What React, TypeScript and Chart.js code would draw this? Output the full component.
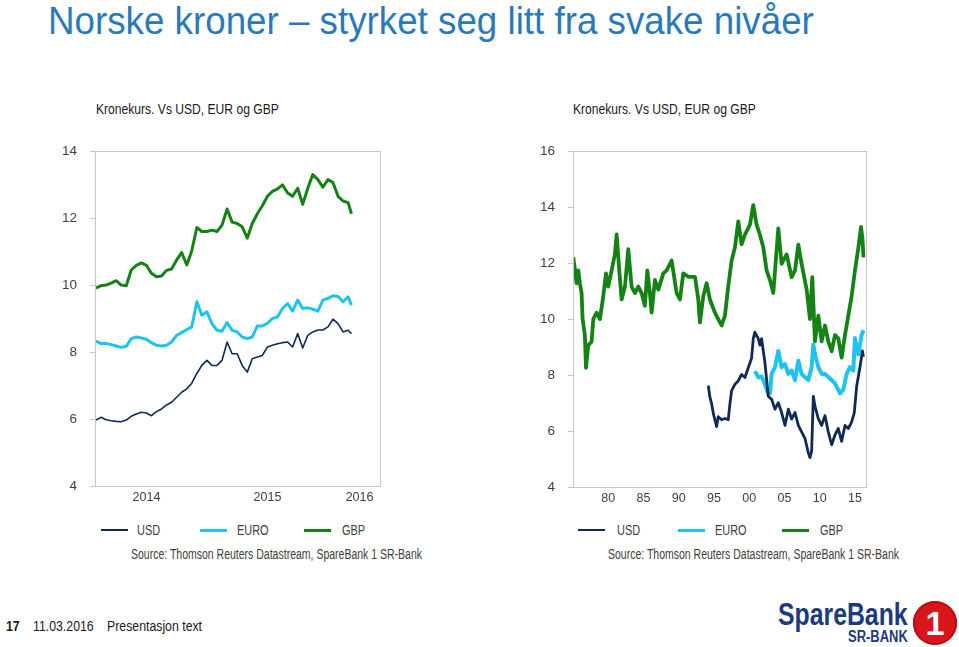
import React, { useEffect, useRef } from "react";
import { Chart, registerables } from "chart.js";

Chart.register(...registerables);

// ---------- data: left chart (2014 - Mar 2016) ----------
const leftDates = [
  "2014-02-01", "2014-02-16", "2014-03-01", "2014-03-16", "2014-04-01", "2014-04-16",
  "2014-05-01", "2014-05-16", "2014-06-01", "2014-06-16", "2014-07-01", "2014-07-16",
  "2014-08-01", "2014-08-16", "2014-09-01", "2014-09-16", "2014-10-01", "2014-10-16",
  "2014-11-01", "2014-11-16", "2014-12-01", "2014-12-16", "2015-01-01", "2015-01-16",
  "2015-02-01", "2015-02-16", "2015-03-01", "2015-03-16", "2015-04-01", "2015-04-16",
  "2015-05-01", "2015-05-16", "2015-06-01", "2015-06-16", "2015-07-01", "2015-07-16",
  "2015-08-01", "2015-08-16", "2015-09-01", "2015-09-16", "2015-10-01", "2015-10-16",
  "2015-11-01", "2015-11-16", "2015-12-01", "2015-12-16", "2016-01-01", "2016-01-16",
  "2016-02-01", "2016-02-16", "2016-03-01", "2016-03-11",
];
const leftUsd = [
  5.97, 6.05, 5.98, 5.95, 5.93, 5.92, 5.97, 6.08, 6.15, 6.2, 6.18, 6.1,
  6.22, 6.3, 6.42, 6.5, 6.65, 6.8, 6.9, 7.07, 7.36, 7.6, 7.75, 7.6,
  7.6, 7.75, 8.3, 7.95, 7.95, 7.6, 7.4, 7.8, 7.85, 7.9, 8.15, 8.2,
  8.25, 8.28, 8.3, 8.15, 8.55, 8.12, 8.5, 8.6, 8.66, 8.66, 8.75, 8.98,
  8.85, 8.6, 8.65, 8.55,
];
const leftEur = [
  8.33, 8.25, 8.26, 8.22, 8.18, 8.14, 8.17, 8.4, 8.45, 8.42, 8.38, 8.28,
  8.2, 8.18, 8.2, 8.3, 8.5, 8.58, 8.67, 8.75, 9.5, 9.1, 9.2, 8.85,
  8.65, 8.62, 8.88, 8.65, 8.6, 8.45, 8.4, 8.45, 8.78, 8.78, 8.86, 9.0,
  9.05, 9.3, 9.45, 9.22, 9.55, 9.3, 9.32, 9.28, 9.22, 9.55, 9.6, 9.68,
  9.66, 9.5, 9.65, 9.4,
];
const leftGbp = [
  9.91, 9.98, 10.0, 10.06, 10.13, 10.0, 9.98, 10.45, 10.59, 10.66, 10.59, 10.35,
  10.25, 10.27, 10.44, 10.48, 10.75, 10.97, 10.6, 11.02, 11.72, 11.6, 11.6, 11.64,
  11.6, 11.79, 12.27, 11.88, 11.84, 11.74, 11.4, 11.84, 12.13, 12.37, 12.65, 12.8,
  12.87, 12.99, 12.75, 12.65, 12.89, 12.41, 12.89, 13.3, 13.15, 12.92, 13.15, 13.06,
  12.65, 12.51, 12.46, 12.13,
];
const leftTickLabels = ["2014", "2015", "2016"];
const leftTickDates = ["2014-07-01", "2015-07-01", "2016-04-05"];

// ---------- data: right chart (1975 - 2016) ----------
const rightGbpYears = [
  1975.04, 1975.28, 1975.51, 1975.75, 1975.98, 1976.22, 1976.36, 1976.69, 1976.84, 1977.17,
  1977.64, 1977.88, 1978.35, 1978.82, 1979.29, 1979.67, 1980.0, 1980.48, 1980.95, 1981.19,
  1981.56, 1981.9, 1982.37, 1982.84, 1983.31, 1983.79, 1984.26, 1984.73, 1985.2, 1985.54,
  1985.91, 1986.15, 1986.62, 1987.1, 1987.81, 1988.28, 1988.99, 1989.7, 1990.17, 1990.64,
  1991.35, 1992.3, 1992.77, 1993.0, 1993.48, 1993.95, 1994.42, 1995.13, 1995.6, 1996.08,
  1996.55, 1997.02, 1997.5, 1997.97, 1998.44, 1998.91, 1999.39, 2000.1, 2000.57, 2001.04,
  2001.51, 2001.99, 2002.46, 2002.94, 2003.41, 2004.12, 2004.59, 2005.3, 2006.01, 2006.49,
  2006.96, 2007.43, 2008.14, 2008.61, 2008.94, 2009.32, 2009.8, 2010.27, 2010.74, 2011.21,
  2011.69, 2012.16, 2012.63, 2013.1, 2013.58, 2014.05, 2014.52, 2014.99, 2015.47, 2015.85,
  2016.05, 2016.2,
];
const rightGbpValues = [
  12.21, 11.74, 11.28, 11.74, 11.28, 10.93, 10.0, 9.42, 8.26, 9.07,
  9.19, 10.0, 10.23, 10.0, 10.81, 11.63, 11.16, 11.74, 12.33, 13.02,
  11.74, 10.7, 11.16, 12.5, 11.16, 10.93, 11.16, 10.93, 10.47, 11.74,
  10.93, 10.23, 11.4, 11.05, 11.63, 11.74, 12.09, 10.93, 10.7, 11.63,
  11.51, 11.51, 10.7, 9.88, 10.81, 11.28, 10.7, 10.23, 10.0, 9.77,
  10.12, 11.16, 12.09, 12.56, 13.49, 12.67, 13.02, 13.37, 14.07, 13.37,
  13.02, 12.56, 11.74, 11.39, 10.93, 13.24, 11.97, 12.31, 11.5, 11.74,
  12.66, 11.97, 11.05, 10.0, 11.5, 9.2, 10.12, 9.2, 9.77, 9.2,
  8.85, 9.43, 9.31, 8.62, 9.43, 10.12, 10.81, 11.73, 12.54, 13.29,
  12.9, 12.2,
];
const rightUsdYears = [
  1994.19, 1994.42, 1994.66, 1994.9, 1995.13, 1995.37, 1995.6, 1996.08, 1996.55, 1997.02,
  1997.26, 1997.5, 1997.97, 1998.44, 1998.91, 1999.39, 1999.86, 2000.33, 2000.57, 2000.8,
  2001.28, 2001.51, 2001.75, 2002.22, 2002.7, 2003.18, 2003.65, 2004.12, 2004.59, 2005.07,
  2005.54, 2006.01, 2006.49, 2006.96, 2007.43, 2007.9, 2008.38, 2008.61, 2008.85, 2009.09,
  2009.32, 2009.8, 2010.27, 2010.74, 2011.21, 2011.69, 2012.16, 2012.63, 2013.1, 2013.58,
  2014.05, 2014.52, 2014.9, 2015.23, 2015.7, 2016.05, 2016.2,
];
const rightUsdValues = [
  7.62, 7.21, 6.98, 6.63, 6.4, 6.16, 6.51, 6.4, 6.45, 6.4,
  6.98, 7.44, 7.67, 7.79, 8.02, 7.91, 8.26, 8.6, 9.3, 9.53,
  9.3, 9.07, 9.3, 8.45, 7.24, 7.13, 6.78, 7.01, 6.66, 6.2,
  6.78, 6.43, 6.66, 6.2, 5.97, 5.74, 5.22, 5.05, 5.28, 7.24,
  6.89, 6.43, 6.2, 6.55, 5.97, 5.51, 5.86, 6.09, 5.63, 6.2,
  6.09, 6.32, 6.66, 7.59, 8.28, 8.86, 8.65,
];
const rightEurYears = [
  2000.8, 2001.3, 2001.75, 2002.22, 2002.7, 2002.94, 2003.18, 2003.65, 2004.12, 2004.59,
  2005.07, 2005.54, 2006.01, 2006.49, 2006.96, 2007.43, 2007.9, 2008.38, 2008.85, 2009.09,
  2009.32, 2009.8, 2010.27, 2010.74, 2011.21, 2011.69, 2012.16, 2012.63, 2012.87, 2013.34,
  2013.81, 2014.29, 2014.76, 2014.99, 2015.47, 2015.94, 2016.2,
];
const rightEurValues = [
  8.14, 7.91, 7.95, 7.67, 7.33, 7.35, 8.04, 8.28, 8.86, 8.28,
  8.39, 8.04, 8.16, 7.82, 8.51, 8.04, 7.93, 7.82, 8.28, 9.09,
  8.74, 8.28, 8.04, 8.04, 7.93, 7.82, 7.7, 7.47, 7.35, 7.47,
  8.04, 8.28, 8.16, 9.32, 8.74, 9.43, 9.6,
];
const rightTickYears = [1980, 1985, 1990, 1995, 2000, 2005, 2010, 2015];
const rightTickLabels = ["80", "85", "90", "95", "00", "05", "10", "15"];

const seriesNames = ["USD", "EURO", "GBP"];

// ---------- styles ----------
const SANS = '"Liberation Sans", Arial, sans-serif';
const COLOR_USD = "#0f2a57";
const COLOR_EUR = "#1ec3f0";
const COLOR_GBP = "#148214";
const TICK_COLOR = "#404040";
const BOX_COLOR = "#c6c6c6";

function toYear(d: string): number {
  const [y, m, dd] = d.split("-").map(Number);
  return y + (m - 1) / 12 + (dd - 1) / 365;
}

const boxPlugin = {
  id: "plotBox",
  afterDraw(chart: any) {
    const { ctx, chartArea } = chart;
    const { left, top, right, bottom } = chartArea;
    ctx.save();
    ctx.strokeStyle = BOX_COLOR;
    ctx.lineWidth = 1;
    ctx.strokeRect(Math.round(left) + 0.5, Math.round(top) + 0.5, Math.round(right - left), Math.round(bottom - top));
    ctx.restore();
  },
};

function pts(xs: number[], ys: number[]) {
  return xs.map((x, i) => ({ x, y: ys[i] }));
}

function makeConfig(p: any): any {
  return {
    type: "line",
    data: { datasets: p.datasets },
    options: {
      animation: false,
      responsive: false,
      maintainAspectRatio: false,
      events: [],
      layout: { padding: p.padding },
      elements: { point: { radius: 0 }, line: { tension: 0, borderJoinStyle: "round" } },
      plugins: { legend: { display: false }, tooltip: { enabled: false }, title: { display: false } },
      scales: {
        x: {
          type: "linear",
          min: p.xMin,
          max: p.xMax,
          grid: { display: false, drawTicks: false },
          border: { display: false },
          afterBuildTicks: (s: any) => {
            s.ticks = p.tickVals.map((v: number) => ({ value: v }));
          },
          afterFit: (s: any) => {
            s.height = 30;
          },
          ticks: {
            autoSkip: false,
            maxRotation: 0,
            padding: p.xPad,
            color: TICK_COLOR,
            font: { family: SANS, size: p.xFont },
            callback: (_v: any, i: number) => p.tickLabels[i],
          },
        },
        y: {
          min: p.yMin,
          max: p.yMax,
          afterFit: (s: any) => {
            s.width = p.yWidth;
          },
          grid: { display: true, drawOnChartArea: false, drawTicks: true, tickLength: 5, color: BOX_COLOR },
          border: { display: true, color: BOX_COLOR },
          ticks: {
            stepSize: 2,
            padding: 13,
            color: TICK_COLOR,
            font: { family: SANS, size: p.yFont },
          },
        },
      },
    },
    plugins: [boxPlugin],
  };
}

function ChartCanvas(props: { build: () => any; left: number; top: number; width: number; height: number }) {
  const ref = useRef<HTMLCanvasElement>(null);
  useEffect(() => {
    const chart = new Chart(ref.current as HTMLCanvasElement, props.build());
    return () => chart.destroy();
  }, []);
  return (
    <canvas
      ref={ref}
      width={props.width}
      height={props.height}
      style={{ position: "absolute", left: props.left, top: props.top, width: props.width, height: props.height }}
    />
  );
}

const buildLeft = () => {
  const xs = leftDates.map(toYear);
  return makeConfig({
    datasets: [
      { label: seriesNames[0], data: pts(xs, leftUsd), borderColor: COLOR_USD, borderWidth: 1.6 },
      { label: seriesNames[1], data: pts(xs, leftEur), borderColor: COLOR_EUR, borderWidth: 3 },
      { label: seriesNames[2], data: pts(xs, leftGbp), borderColor: COLOR_GBP, borderWidth: 3 },
    ],
    padding: { top: 11, right: 20, left: 0, bottom: 0 },
    xMin: 2014.075,
    xMax: 2016.43,
    yMin: 4,
    yMax: 14,
    tickVals: leftTickDates.map(toYear),
    tickLabels: leftTickLabels,
    yWidth: 95,
    xFont: 12.5,
    yFont: 13.5,
    xPad: 4,
  });
};

const buildRight = () =>
  makeConfig({
    datasets: [
      { label: seriesNames[0], data: pts(rightUsdYears, rightUsdValues), borderColor: COLOR_USD, borderWidth: 2.8 },
      { label: seriesNames[1], data: pts(rightEurYears, rightEurValues), borderColor: COLOR_EUR, borderWidth: 4 },
      { label: seriesNames[2], data: pts(rightGbpYears, rightGbpValues), borderColor: COLOR_GBP, borderWidth: 3.8 },
    ],
    padding: { top: 10, right: 14, left: 0, bottom: 0 },
    xMin: 1975.0,
    xMax: 2016.56,
    yMin: 4,
    yMax: 16,
    tickVals: rightTickYears,
    tickLabels: rightTickLabels,
    yWidth: 93,
    xFont: 12.5,
    yFont: 13.5,
    xPad: 4,
  });

// absolutely positioned text, horizontally condensed like the reference slide
const txt = (left: number, top: number, size: number, sx: number, extra: any = {}) => ({
  position: "absolute" as const,
  left,
  top,
  whiteSpace: "nowrap" as const,
  fontFamily: SANS,
  fontSize: size,
  lineHeight: 1,
  transform: `scaleX(${sx})`,
  transformOrigin: "left top",
  ...extra,
});

function Legend(props: { items: { line: number; text: number }[]; top: number }) {
  const colors = [COLOR_USD, COLOR_EUR, COLOR_GBP];
  const widths = [2, 3, 3];
  return (
    <>
      {props.items.map((it, i) => (
        <React.Fragment key={i}>
          <div
            style={{
              position: "absolute",
              left: it.line,
              top: props.top - widths[i] / 2,
              width: 27,
              height: widths[i],
              background: colors[i],
            }}
          />
          <div style={txt(it.text, props.top - 7, 14, 0.78, { color: TICK_COLOR })}>{seriesNames[i]}</div>
        </React.Fragment>
      ))}
    </>
  );
}

export default function App() {
  const sourceText = "Source: Thomson Reuters Datastream, SpareBank 1 SR-Bank";
  const chartTitle = "Kronekurs. Vs USD, EUR og GBP";
  return (
    <div
      style={{
        position: "absolute",
        left: 0,
        top: 0,
        width: 959,
        height: 647,
        overflow: "hidden",
        background: "#ffffff",
      }}
    >
      <div style={txt(48, 2, 38, 0.967, { color: "#2a7ab9" })}>Norske kroner – styrket seg litt fra svake nivåer</div>

      <div style={txt(96, 101, 15.5, 0.78, { color: "#1a1a1a" })}>{chartTitle}</div>
      <div style={txt(573, 101, 15.5, 0.78, { color: "#1a1a1a" })}>{chartTitle}</div>

      <ChartCanvas build={buildLeft} left={0} top={130} width={400} height={386} />
      <ChartCanvas build={buildRight} left={480} top={130} width={400} height={387} />

      <Legend
        top={530}
        items={[
          { line: 101, text: 137 },
          { line: 200, text: 237 },
          { line: 304, text: 342 },
        ]}
      />
      <Legend
        top={530}
        items={[
          { line: 578, text: 617 },
          { line: 678, text: 715 },
          { line: 782, text: 820 },
        ]}
      />
      <div style={txt(131, 547, 14, 0.75, { color: TICK_COLOR })}>{sourceText}</div>
      <div style={txt(608, 547, 14, 0.75, { color: TICK_COLOR })}>{sourceText}</div>

      <div style={txt(6, 618, 15, 0.82, { color: "#1a1a1a", fontWeight: "bold" })}>17</div>
      <div style={txt(33, 618, 15, 0.82, { color: "#1a1a1a" })}>11.03.2016</div>
      <div style={txt(107, 618, 15, 0.82, { color: "#1a1a1a" })}>Presentasjon text</div>

      <div style={txt(778, 599, 31, 0.8, { color: "#1d3a7c", fontWeight: "bold" })}>SpareBank</div>
      <div style={txt(848, 629, 16, 0.81, { color: "#1d3a7c", fontWeight: "bold" })}>SR-BANK</div>
      <div
        style={{
          position: "absolute",
          left: 913,
          top: 601,
          width: 44,
          height: 44,
          borderRadius: "50%",
          background: "#d9161c",
          boxShadow: "inset 0 0 0 2px #b80f14",
        }}
      >
        <div
          style={{
            position: "absolute",
            left: 0,
            top: 5,
            width: 44,
            textAlign: "center",
            fontFamily: SANS,
            fontWeight: "bold",
            fontSize: 34,
            lineHeight: 1,
            color: "#ffffff",
          }}
        >
          1
        </div>
      </div>
    </div>
  );
}
